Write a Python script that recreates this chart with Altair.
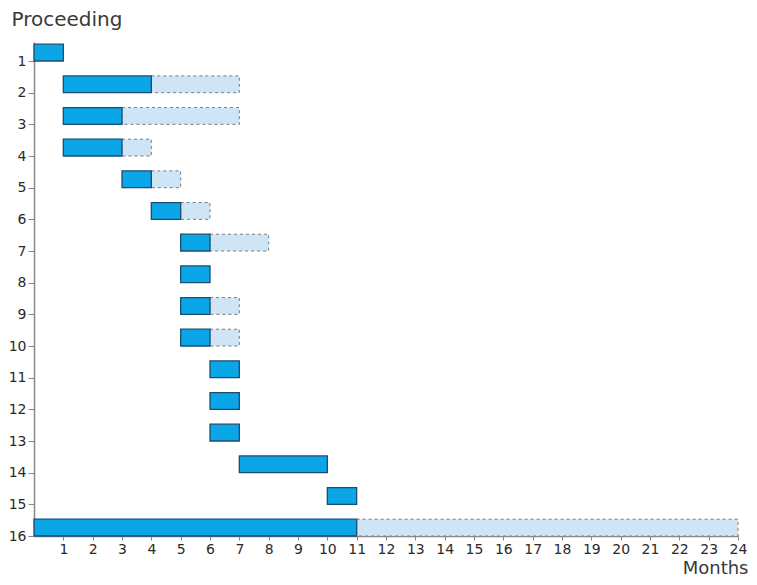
import altair as alt
import pandas as pd

rows = list(range(1, 17))
start = [0, 1, 1, 1, 3, 4, 5, 5, 5, 5, 6, 6, 6, 7, 10, 0]
actual_end = [1, 4, 3, 3, 4, 5, 6, 6, 6, 6, 7, 7, 7, 10, 11, 11]
planned_end = [None, 7, 7, 4, 5, 6, 8, None, 7, 7, None, None, None, None, None, 24]
x_ticks = list(range(1, 25))

BAR_H = 0.53

actual = pd.DataFrame({
    "row": rows,
    "start": start,
    "end": actual_end,
})
actual["top"] = actual["row"] - BAR_H

planned = pd.DataFrame({
    "row": rows,
    "start": actual_end,
    "end": planned_end,
}).dropna()
planned["top"] = planned["row"] - BAR_H

LFONT = "DejaVu Sans"
TFONT = "DejaVu Sans"

x_scale = alt.Scale(domain=[0, 24], nice=False, zero=False)
y_scale = alt.Scale(domain=[0.4, 16], reverse=True, nice=False, zero=False)

x_axis = alt.Axis(
    values=x_ticks, title="Months", grid=False, domain=True,
    domainColor="#8a8a8a", domainWidth=1.5, tickColor="#8a8a8a", tickSize=4,
    labelFont=LFONT, labelFontSize=14, labelColor="#2a2a2a", labelFontWeight="normal",
    labelPadding=2, labelFlush=False,
    titleFont=TFONT, titleFontSize=18, titleFontWeight="normal", titleColor="#3a3a3a",
    titleAnchor="end", titleAlign="right", titleBaseline="alphabetic",
    titleX=714, titleY=37,
)
y_axis = alt.Axis(
    values=rows, title="Proceeding", grid=False, domain=True,
    domainColor="#8a8a8a", domainWidth=1.5, tickColor="#8a8a8a", tickSize=6,
    labelFont=LFONT, labelFontSize=14, labelColor="#2a2a2a", labelFontWeight="normal",
    labelPadding=2,
    titleFont=TFONT, titleFontSize=20, titleFontWeight="normal", titleColor="#3a3a3a",
    titleAngle=0, titleAlign="left", titleBaseline="alphabetic",
    titleX=-23, titleY=-17,
)

planned_layer = alt.Chart(planned).mark_bar(
    fill="#cfe5f6", stroke="#7a7a7a", strokeWidth=1, strokeDash=[3, 3]
).encode(
    x=alt.X("start:Q", scale=x_scale, axis=x_axis),
    x2="end:Q",
    y=alt.Y("top:Q", scale=y_scale, axis=y_axis),
    y2="row:Q",
)

actual_layer = alt.Chart(actual).mark_bar(
    fill="#0ba6e8", stroke="#1d4e6e", strokeWidth=1.3
).encode(
    x=alt.X("start:Q", scale=x_scale, axis=x_axis),
    x2="end:Q",
    y=alt.Y("top:Q", scale=y_scale, axis=y_axis),
    y2="row:Q",
)

chart = alt.layer(planned_layer, actual_layer).properties(
    width=704,
    height=494,
    background="white",
    autosize=alt.AutoSizeParams(type="none"),
    padding={"left": 26, "top": 34, "right": 10, "bottom": 41},
).configure_view(strokeWidth=0, stroke=None)

chart.save("out.html", embed_options={"renderer": "svg", "actions": False})
